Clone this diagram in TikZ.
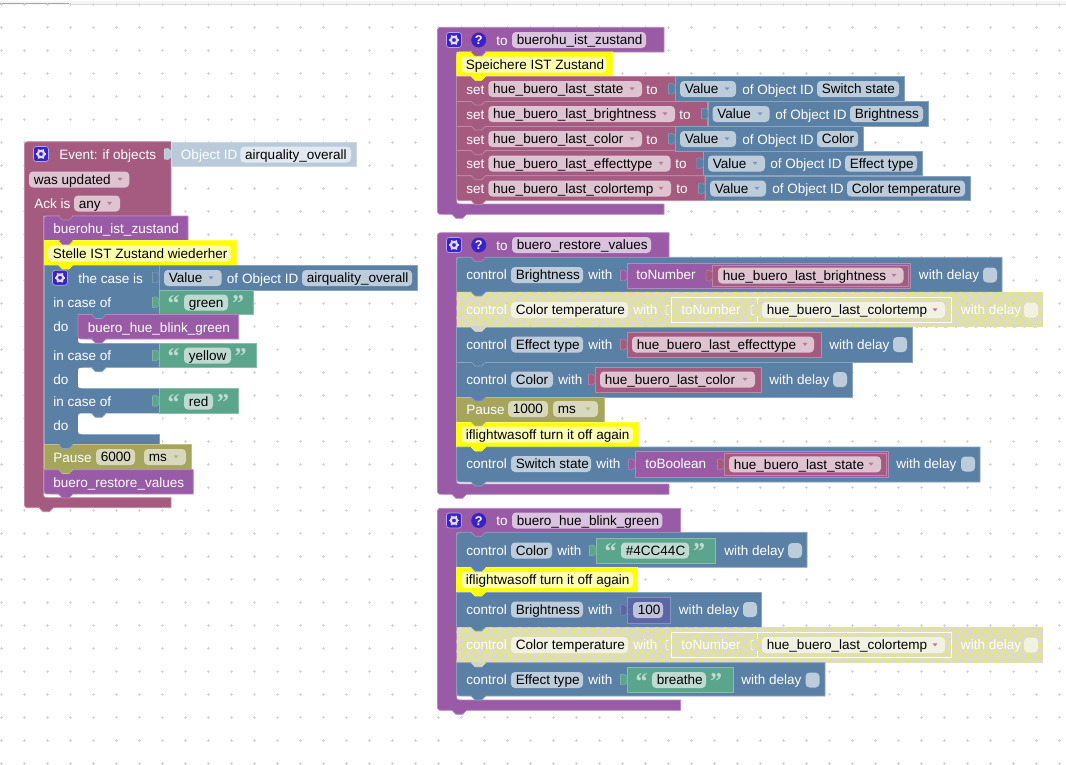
\documentclass[tikz,border=0pt]{standalone}
\usepackage{fontspec}
\setmainfont{Liberation Sans}
\newfontfamily\qfont{Liberation Serif}
\usetikzlibrary{patterns.meta}
\definecolor{cpur}{HTML}{995BA5}
\definecolor{cred}{HTML}{A55B80}
\definecolor{cblu}{HTML}{5B80A5}
\definecolor{cgrn}{HTML}{5BA58C}
\definecolor{coli}{HTML}{A5A55B}
\definecolor{cnum}{HTML}{5B67A5}
\definecolor{cyel}{HTML}{FFFF00}
\definecolor{clbl}{HTML}{B9CBDB}
\definecolor{fpur}{HTML}{D9C3DE}
\definecolor{fred}{HTML}{DEC3D1}
\definecolor{fblu}{HTML}{BCCCDB}
\definecolor{fgrn}{HTML}{BFDBD1}
\definecolor{foli}{HTML}{D8D8BC}
\definecolor{fnum}{HTML}{BEC2DB}
\definecolor{fyel}{HTML}{FFFFB0}
\definecolor{fdis}{HTML}{F2F2E2}
\definecolor{flbl}{HTML}{E2E9F0}
\definecolor{icon}{HTML}{3A22C8}
\definecolor{dbase}{HTML}{D4D4C8}
\definecolor{dhat}{HTML}{E8E870}
\tikzset{
  x=0.75pt,y=-0.75pt,
  wtext/.style={anchor=west,inner sep=0pt,text height=9.2pt,text depth=2pt,text=white,font=\fontsize{10.15}{11}\selectfont},
  btext/.style={wtext,text=black},
  qtext/.style={anchor=center,inner sep=0pt,font=\qfont\bfseries\fontsize{18}{18}\selectfont},
  fieldbox/.style={rounded corners=3pt,draw=none},
  blockbox/.style={line width=.6pt,line join=round}
}
% rectangular block
\newcommand\R[5]{\path[blockbox,fill=#5,draw=#5!72!white] (#1,#2) rectangle (#3,#4);}
% block with rounded top-left
\newcommand\RT[5]{\path[blockbox,fill=#5,draw=#5!72!white] (#3,#4) -- (#1,#4) -- (#1,{#2+6}) .. controls (#1,#2) .. ({#1+6},#2) -- (#3,#2) -- cycle;}
% block with rounded bottom-left
\newcommand\RB[5]{\path[blockbox,fill=#5,draw=#5!72!white] (#3,#2) -- (#1,#2) -- (#1,{#4-6}) .. controls (#1,#4) .. ({#1+6},#4) -- (#3,#4) -- cycle;}
% tab below a stacked block
\newcommand\Tb[3]{\path[fill=#3,draw=#3!72!white,line width=.5pt,line join=round] ({#1+14.5},{#2}) -- ({#1+18.5},{#2+4}) -- ({#1+25},{#2+4}) -- ({#1+29},{#2}); \path[fill=#3] ({#1+15.5},{#2-1}) rectangle ({#1+28},{#2+.6});}
% puzzle tab left of a value block
\newcommand\Pz[4]{\path[fill=#4,draw=#4!80!white,line width=.4pt,line join=round] (#1,{(#2+#3)/2-3}) -- (#1-3,{(#2+#3)/2-5.5}) -- (#1-6.5,{(#2+#3)/2-5}) -- (#1-6.5,{(#2+#3)/2+5}) -- (#1-3,{(#2+#3)/2+5.5}) -- (#1,{(#2+#3)/2+3}) -- cycle;}
% value block = rect + tab
\newcommand\V[5]{\R{#1}{#2}{#3}{#4}{#5}\Pz{#1}{#2}{#4}{#5}}
% C-shaped hat block
\newcommand\Hat[7]{\path[blockbox,fill=#7,draw=#7!72!white] (#3,#6) -- ({#1+6},#6) .. controls (#1,#6) .. (#1,{#6-6}) -- (#1,{#2+6}) .. controls (#1,#2) .. ({#1+6},#2) -- (#3,#2) -- (#3,#4) -- ({#1+19},#4) -- ({#1+19},{#5-6}) .. controls ({#1+19},#5) .. ({#1+25},#5) -- (#3,#5) -- cycle;}
% disabled row
\newcommand\D[4]{\path[fill=dbase,fill opacity=.85] (#1,#2) rectangle (#3,#4);
  \path[pattern={Lines[angle=45,distance=5.2pt,line width=.85pt]},pattern color=dhat] (#1,#2) rectangle (#3,#4);
  \path[pattern={Lines[angle=-45,distance=5.2pt,line width=.85pt]},pattern color=dhat] (#1,#2) rectangle (#3,#4);}
% label, field, dropdown arrow
\newcommand\T[3]{\node[wtext] at (#1,#2) {#3};}
\newcommand\F[5]{\path[fieldbox,fill=#5] (#1,{#3-8}) rectangle (#2,{#3+8}); \node[btext] at ({#1+4.6},#3) {#4};}
\newcommand\A[3]{\path[fill=#3!80!white] ({#1+.5},{#2-1.6}) -- ({#1+5.5},{#2-1.6}) -- ({#1+3},{#2+1.4}) -- cycle;}
\newcommand\FD[7]{\F{#1}{#2}{#3}{#4}{#5}\A{#6}{#3}{#7}}
\newcommand\Qo[3]{\node[qtext,text=#3] at (#1,{#2+3.8}) {“};}
\newcommand\Qc[3]{\node[qtext,text=#3] at (#1,{#2+3.8}) {”};}
\newcommand\Ck[2]{\path[fieldbox,fill=fblu] (#1,{#2-7.5}) rectangle ({#1+14},{#2+7.5});}
\newcommand\Cog[2]{\path[fill=icon,draw=white!60!icon,line width=.5pt,rounded corners=2pt] ({#1-7.5},{#2-7.5}) rectangle ({#1+7.5},{#2+7.5});
  \draw[white!85!icon,line width=1.6pt] (#1,#2) circle (3.2);
  \foreach \a in {0,60,...,300}{\draw[white!85!icon,line width=1.2pt] ({#1+3*cos(\a)},{#2+3*sin(\a)}) -- ({#1+5.3*cos(\a)},{#2+5.3*sin(\a)});}}
\newcommand\Hp[2]{\path[fill=icon] (#1,#2) circle (7.5); \node[wtext,anchor=center,font=\bfseries\fontsize{9.5}{10}\selectfont] at (#1,#2) {?};}
% disabled control row contents
\newcommand\DisRow[3]{\D{456.7}{#1}{1042.5}{#2}
  \T{466}{#3}{control}\F{511}{628}{#3}{Color temperature}{fdis}\T{633}{#3}{with}
  \path[draw=white,line width=.6pt] (671,{#3-13}) rectangle (951,{#3+12.5});
  \draw[white!85!dbase,line width=.5pt] (669,{#3-5}) -- (666,{#3-4}) -- (666,{#3+4}) -- (669,{#3+5});
  \draw[white,line width=.5pt] (757,{#3-13}) -- (757,{#3-6}) (757,{#3+6}) -- (757,{#3+12.5});
  \draw[white!85!dbase,line width=.5pt] (754,{#3-5}) -- (751,{#3-4}) -- (751,{#3+4}) -- (754,{#3+5});
  \T{681}{#3}{toNumber}
  \FD{762}{945}{#3}{hue\_buero\_last\_colortemp}{fdis}{932}{cred}
  \T{960.7}{#3}{with delay}\path[fieldbox,fill=fdis] (1024,{#3-7.5}) rectangle (1038,{#3+7.5});}

\begin{document}
\begin{tikzpicture}
\useasboundingbox (0,0) rectangle (1066,764);
\fill[white] (0,0) rectangle (1066,764);
% workspace chrome
\fill[black!4] (0,0) rectangle (1066,4.5);
\fill[white] (0,0) rectangle (1066,0.8);
\draw[black!35,line width=.9pt] (0,3.8) -- (69,3.8);
\draw[black!14,line width=.6pt] (69,4) -- (1066,4);
% grid
\foreach \i in {0,...,46}{\foreach \j in {0,...,33}{
  \draw[black!16,line width=.45pt] ({1.5+23*\i-1.5},{4+23*\j}) -- ({1.5+23*\i+1.5},{4+23*\j}) ({1.5+23*\i},{4+23*\j-1.5}) -- ({1.5+23*\i},{4+23*\j+1.5});}}

% ============ LEFT EVENT BLOCK
\Hat{24.5}{141.7}{171}{216}{497.7}{507.7}{cred}
\Tb{24.5}{507.7}{cred}
\Cog{41}{154}
\T{59}{154.3}{Event: if objects}
\V{171}{142}{356}{166}{clbl}
\T{180.7}{154.3}{Object ID}
\F{240.3}{351}{154.5}{airquality\_overall}{flbl}
\FD{29}{129.3}{179.5}{was updated}{fred}{117}{cred}
\T{34}{203.3}{Ack is}
\FD{74}{120}{203.5}{any}{fred}{106.5}{cred}
% statement stack
\RT{44}{216}{188}{240.5}{cpur}
\R{44}{240.5}{236}{265}{cyel}
% switch body
\path[blockbox,fill=cblu,draw=cblu!72!white] (44,265) rectangle (159,444.5);
\path[fill=white] (159.4,314.5) rectangle (162,444);
\path[fill=white] (162,367.7) -- (84,367.7) .. controls (78,367.7) .. (78,373.7) -- (78,382.3) .. controls (78,388.3) .. (84,388.3) -- (162,388.3) -- cycle;
\path[fill=white] (162,413.3) -- (84,413.3) .. controls (78,413.3) .. (78,419.3) -- (78,428.3) .. controls (78,434.3) .. (84,434.3) -- (162,434.3) -- cycle;
\path[fill=white] (162,314.5) -- (78,314.5) -- (78,337.3) .. controls (78,343.3) .. (84,343.3) -- (162,343.3) -- cycle;
\draw[cblu!72!white,line width=.6pt] (159,265) -- (159,314.5) (84,343.3) -- (159,343.3) -- (159,367.7) (159,388.3) -- (159,413.3) (159,434.3) -- (159,444.5);
\R{159}{265}{417}{290}{cblu}
\Pz{159}{265}{290}{cblu}
\V{159}{290}{253.5}{314.5}{cgrn}
\V{159}{343.3}{256.7}{367.7}{cgrn}
\V{159}{388.5}{238.7}{413.3}{cgrn}
\RB{78}{314.5}{238.7}{339}{cpur}
\Tb{77}{339}{cpur}
\Tb{77}{367.7}{cblu}
\Tb{77}{413.3}{cblu}
\Tb{77}{314.5}{cblu}
% pause and following
\R{44}{444.5}{191.7}{469.7}{coli}
\RB{44}{469.7}{193.3}{494}{cpur}
\Tb{44}{444.5}{cblu}
\Tb{44}{469.5}{coli}
\Tb{44}{494}{cpur}
\Tb{44}{216}{cred}
\Tb{44}{240.5}{cpur}
\Tb{44}{265}{cyel}
\T{53}{228.5}{buerohu\_ist\_zustand}
\F{48}{231}{253.5}{Stelle IST Zustand wiederher}{fyel}
\Cog{60}{277.7}
\T{78}{278.5}{the case is}
\FD{164}{221.7}{278}{Value}{fblu}{208}{cblu}
\T{226.7}{278.5}{of Object ID}
\F{302}{412}{278}{airquality\_overall}{fblu}
\T{53}{302.5}{in case of}
\Qo{173.5}{300}{fgrn}\F{184}{228}{302.5}{green}{fgrn}\Qc{238}{300}{fgrn}
\T{53}{327}{do}
\T{87.5}{327.5}{buero\_hue\_blink\_green}
\T{53}{355.3}{in case of}
\Qo{173.5}{353}{fgrn}\F{184}{231}{355.5}{yellow}{fgrn}\Qc{240.5}{353}{fgrn}
\T{53}{380}{do}
\T{53}{401.5}{in case of}
\Qo{173.5}{399}{fgrn}\F{184}{213}{401.5}{red}{fgrn}\Qc{223}{399}{fgrn}
\T{53}{426}{do}
\T{53}{457.3}{Pause}
\F{96}{135}{457}{6000}{foli}
\FD{144}{186}{457}{ms}{foli}{173}{coli}
\T{53}{482.3}{buero\_restore\_values}

% ============ BLOCK 1 (top right)
\Hat{437.5}{27.3}{664}{52}{204}{214.3}{cpur}
\Tb{437.5}{214.3}{cpur}
\Cog{454}{40}\Hp{478.7}{40}
\T{496}{40.5}{to}
\F{512}{646}{40}{buerohu\_ist\_zustand}{fpur}
\RT{456.7}{52}{612.7}{76.3}{cyel}
\R{456.7}{76.3}{675}{101}{cred}
\R{456.7}{101}{707.7}{126}{cred}
\R{456.7}{126}{675}{150.7}{cred}
\R{456.7}{150.7}{703.3}{175.7}{cred}
\RB{456.7}{175.7}{705}{200.7}{cred}
\Tb{456.7}{76.3}{cyel}
\Tb{456.7}{101}{cred}\Tb{456.7}{126}{cred}\Tb{456.7}{150.7}{cred}\Tb{456.7}{175.7}{cred}\Tb{456.7}{200.7}{cred}
\Tb{456.7}{52}{cpur}
\F{461}{606.5}{64.5}{Speichere IST Zustand}{fyel}
% rows
\T{466}{89.3}{set}\FD{488.3}{642}{89}{hue\_buero\_last\_state}{fred}{629}{cred}\T{646}{89.3}{to}
\V{675}{76.6}{904}{101}{cblu}\F{680}{736}{89}{Value}{fblu}\A{724}{89}{cblu}\T{742}{89.3}{of Object ID}\F{817}{899}{89}{Switch state}{fblu}
\T{466}{114.3}{set}\FD{488.3}{675}{114}{hue\_buero\_last\_brightness}{fred}{662}{cred}\T{679}{114.3}{to}
\V{708}{101.5}{928}{126}{cblu}\F{712.5}{769.5}{114}{Value}{fblu}\A{757}{114}{cblu}\T{775}{114.3}{of Object ID}\F{850}{923}{114}{Brightness}{fblu}
\T{466}{139.3}{set}\FD{488.3}{642}{139}{hue\_buero\_last\_color}{fred}{629}{cred}\T{646}{139.3}{to}
\V{675}{126.5}{863}{151}{cblu}\F{680}{736}{139}{Value}{fblu}\A{724}{139}{cblu}\T{742}{139.3}{of Object ID}\F{817}{858}{139}{Color}{fblu}
\T{466}{163.8}{set}\FD{488.3}{670.5}{163.5}{hue\_buero\_last\_effecttype}{fred}{658}{cred}\T{675}{163.8}{to}
\V{703.3}{151}{922}{175.7}{cblu}\F{708}{765}{163.5}{Value}{fblu}\A{752}{163.5}{cblu}\T{770}{163.8}{of Object ID}\F{845}{917}{163.5}{Effect type}{fblu}
\T{466}{188.8}{set}\FD{488.3}{671}{188.5}{hue\_buero\_last\_colortemp}{fred}{658}{cred}\T{676}{188.8}{to}
\V{705}{176}{970}{200.7}{cblu}\F{710}{766}{188.5}{Value}{fblu}\A{754}{188.5}{cblu}\T{772}{188.8}{of Object ID}\F{847}{965}{188.5}{Color temperature}{fblu}

% ============ BLOCK 2
\Hat{437.5}{232.7}{669}{258}{484}{494.3}{cpur}
\Tb{437.5}{494.3}{cpur}
\Cog{454}{245}\Hp{478.7}{245}
\T{496}{245.5}{to}
\F{512}{651}{245}{buero\_restore\_values}{fpur}
\RT{456.7}{257.3}{1002}{292}{cblu}
\DisRow{292}{327.3}{310}
\R{456.7}{327.3}{912.3}{362}{cblu}
\R{456.7}{362}{852}{397}{cblu}
\R{456.7}{397}{604}{422}{coli}
\R{456.7}{422}{638.5}{447}{cyel}
\RB{456.7}{447}{980}{482}{cblu}
\Tb{456.7}{257.3}{cpur}\Tb{456.7}{292}{cblu}\Tb{456.7}{327.3}{dbase}\Tb{456.7}{362}{cblu}\Tb{456.7}{397}{cblu}\Tb{456.7}{422}{coli}\Tb{456.7}{447}{cyel}\Tb{456.7}{482}{cblu}
% brightness
\T{466}{275}{control}\F{511}{583}{275}{Brightness}{fblu}\T{588}{275}{with}
\V{627}{263}{910}{288}{cpur}\T{636}{275}{toNumber}
\R{712.7}{265}{908}{286.5}{cred}\Pz{712.7}{265}{286.5}{cred}
\FD{718}{903.5}{275.5}{hue\_buero\_last\_brightness}{fred}{891}{cred}
\T{918.7}{275}{with delay}\Ck{983}{275}
% effect
\T{466}{344.5}{control}\F{511}{583}{344.5}{Effect type}{fblu}\T{588}{344.5}{with}
\V{627}{332}{821}{357}{cred}\FD{632}{814}{344.5}{hue\_buero\_last\_effecttype}{fred}{802}{cred}
\T{829}{344.5}{with delay}\Ck{893}{344.5}
% color
\T{466}{379.5}{control}\F{511}{553}{379.5}{Color}{fblu}\T{558}{379.5}{with}
\V{595}{367}{761}{392}{cred}\FD{600}{755}{379.5}{hue\_buero\_last\_color}{fred}{742}{cred}
\T{769}{379.5}{with delay}\Ck{833}{379.5}
% pause
\T{466}{409.3}{Pause}\F{508}{548}{409}{1000}{foli}\FD{553}{598}{409}{ms}{foli}{585}{coli}
\F{461}{633}{434.5}{iflightwasoff turn it off again}{fyel}
% switch
\T{466}{464}{control}\F{511}{591}{464}{Switch state}{fblu}\T{596}{464}{with}
\V{635}{451.5}{888}{477}{cpur}\T{645}{464}{toBoolean}
\R{724}{453.5}{886}{475}{cred}\Pz{724}{453.5}{475}{cred}
\FD{729}{881}{464.3}{hue\_buero\_last\_state}{fred}{868}{cred}
\T{896}{464}{with delay}\Ck{961}{464}

% ============ BLOCK 3
\Hat{437.5}{508.3}{680.7}{533}{700}{710.3}{cpur}
\Tb{437.5}{710.3}{cpur}
\Cog{454}{520.5}\Hp{478.7}{520.5}
\T{496}{521}{to}
\F{512}{662.3}{520.5}{buero\_hue\_blink\_green}{fpur}
\RT{456.7}{532.3}{807}{567.3}{cblu}
\R{456.7}{567.3}{637.7}{592}{cyel}
\R{456.7}{592}{761}{627}{cblu}
\DisRow{627}{662.7}{645}
\RB{456.7}{662.7}{825}{696}{cblu}
\Tb{456.7}{532.3}{cpur}\Tb{456.7}{567.3}{cblu}\Tb{456.7}{592}{cyel}\Tb{456.7}{627}{cblu}\Tb{456.7}{662.7}{dbase}\Tb{456.7}{696}{cblu}
\T{466}{550.5}{control}\F{511}{552}{550.5}{Color}{fblu}\T{557}{550.5}{with}
\V{596}{538}{715.7}{563}{cgrn}\Qo{610.5}{548}{fgrn}\F{621}{689}{550.5}{\#4CC44C}{fgrn}\Qc{699}{548}{fgrn}
\T{724}{550.5}{with delay}\Ck{788}{550.5}
\F{461}{633}{580}{iflightwasoff turn it off again}{fyel}
\T{466}{609.5}{control}\F{511}{583}{609.5}{Brightness}{fblu}\T{588}{609.5}{with}
\V{627}{597}{670}{623}{cnum}\F{633}{663}{610}{100}{fnum}
\T{678.7}{609.5}{with delay}\Ck{743}{609.5}
\T{466}{680}{control}\F{511}{583}{680}{Effect type}{fblu}\T{588}{680}{with}
\V{627}{667}{733}{692}{cgrn}\Qo{641.5}{677.5}{fgrn}\F{652}{706}{680}{breathe}{fgrn}\Qc{716}{677.5}{fgrn}
\T{741}{680}{with delay}\Ck{805.5}{680}
\end{tikzpicture}
\end{document}
